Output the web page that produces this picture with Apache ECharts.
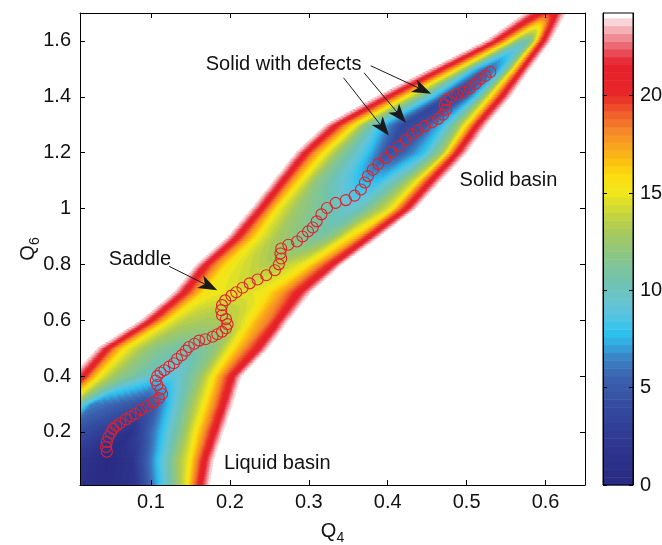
<!DOCTYPE html>
<html>
<head>
<meta charset="utf-8">
<script src="https://cdn.jsdelivr.net/npm/echarts@6/dist/echarts.min.js"></script>
<style>
  html, body { margin: 0; padding: 0; background: #fff; }
  #chart { width: 662px; height: 545px; }
</style>
</head>
<body>
<div id="chart"></div>
<script>
// Free-energy landscape in the (Q4, Q6) order-parameter plane with the
// minimum free-energy path from the liquid basin to the solid basin.

// Free-energy profiles across the valley, one row per Q6 level.
// Each row lists 13 knots (Q4 position, free energy) from the upper-left
// rim, through the valley floor, to the lower-right rim.
const q6Rows = [0.0, 0.1, 0.2, 0.3, 0.4, 0.5, 0.6, 0.7, 0.8, 0.9, 1.0, 1.1, 1.2, 1.3, 1.4, 1.5, 1.6, 1.7];
const rowQ4 = [
  [-0.40, -0.35, -0.30, -0.25, -0.20, 0.000, 0.040, 0.081, 0.132, 0.145, 0.153, 0.162, 0.173],
  [-0.32, -0.27, -0.22, -0.17, -0.12, 0.000, 0.045, 0.075, 0.130, 0.148, 0.158, 0.168, 0.179],
  [-0.25, -0.20, -0.15, -0.10, -0.05, 0.000, 0.075, 0.093, 0.140, 0.155, 0.168, 0.180, 0.191],
  [-0.040, -0.025, -0.015, -0.005, 0.004, 0.025, 0.090, 0.108, 0.148, 0.166, 0.180, 0.192, 0.203],
  [0.000, 0.015, 0.024, 0.036, 0.055, 0.085, 0.110, 0.130, 0.160, 0.177, 0.190, 0.203, 0.214],
  [0.033, 0.045, 0.055, 0.070, 0.100, 0.125, 0.150, 0.170, 0.182, 0.200, 0.218, 0.236, 0.248],
  [0.088, 0.100, 0.112, 0.125, 0.145, 0.170, 0.195, 0.210, 0.222, 0.235, 0.250, 0.262, 0.274],
  [0.130, 0.142, 0.155, 0.168, 0.185, 0.210, 0.230, 0.245, 0.255, 0.265, 0.275, 0.288, 0.302],
  [0.158, 0.170, 0.183, 0.198, 0.215, 0.240, 0.265, 0.285, 0.299, 0.313, 0.321, 0.330, 0.341],
  [0.198, 0.210, 0.222, 0.238, 0.260, 0.290, 0.315, 0.330, 0.347, 0.362, 0.369, 0.377, 0.389],
  [0.228, 0.240, 0.250, 0.262, 0.285, 0.325, 0.350, 0.365, 0.385, 0.405, 0.413, 0.424, 0.435],
  [0.256, 0.268, 0.278, 0.292, 0.310, 0.340, 0.370, 0.390, 0.416, 0.437, 0.445, 0.455, 0.467],
  [0.284, 0.296, 0.307, 0.322, 0.340, 0.375, 0.400, 0.420, 0.446, 0.470, 0.478, 0.488, 0.500],
  [0.322, 0.335, 0.347, 0.360, 0.372, 0.392, 0.420, 0.445, 0.470, 0.490, 0.502, 0.513, 0.525],
  [0.386, 0.400, 0.412, 0.424, 0.438, 0.458, 0.478, 0.495, 0.510, 0.522, 0.532, 0.544, 0.555],
  [0.455, 0.468, 0.480, 0.490, 0.500, 0.510, 0.525, 0.537, 0.547, 0.555, 0.562, 0.570, 0.580],
  [0.525, 0.537, 0.547, 0.556, 0.563, 0.570, 0.577, 0.582, 0.586, 0.589, 0.592, 0.597, 0.606],
  [0.575, 0.585, 0.590, 0.594, 0.597, 0.600, 0.603, 0.606, 0.609, 0.612, 0.615, 0.618, 0.625]
];
const rowF = [
  [24, 21, 18, 15, 12, 1.5, 0.5, 2, 12, 15, 18, 21, 24],
  [24, 21, 18, 15, 12, 2.2, 0.3, 1.5, 12, 15, 18, 21, 24],
  [24, 21, 18, 15, 12, 4.5, 1.5, 4.5, 12, 15, 18, 21, 24],
  [24, 21, 18, 15, 12, 6.5, 4.3, 5.5, 12, 15, 18, 21, 24],
  [24, 21, 18, 15, 12.5, 10.5, 8.5, 9, 12, 15, 18, 21, 24],
  [24, 21, 18, 15, 12, 11, 10.5, 11.5, 12, 15, 18, 21, 24],
  [24, 21, 18, 15, 13.5, 13, 13.2, 14, 15, 17, 18.5, 21, 24],
  [24, 21, 18, 15.5, 15, 14.5, 14.8, 15.3, 16.5, 17.5, 19, 21, 24],
  [24, 21, 18, 15.5, 14.5, 13.5, 13.5, 14.5, 15.5, 18, 19.5, 21, 24],
  [24, 21, 18, 15, 13, 11.5, 11, 12, 15, 17, 19, 21, 24],
  [24, 21, 18, 15, 12.5, 10.5, 9.5, 10, 12.5, 15, 18, 21, 24],
  [24, 21, 18, 15, 12, 9.5, 7.5, 8, 11, 15, 18, 21, 24],
  [24, 21, 18, 15, 12, 8, 4.5, 5.5, 8, 13, 17, 21, 24],
  [24, 21, 18, 15, 12, 8, 3.8, 4.5, 8, 12.5, 16.5, 21, 24],
  [24, 21, 18, 15, 12, 8, 3.5, 4.5, 8, 12.5, 16.5, 21, 24],
  [24, 21, 18, 15, 12, 8, 5.5, 6.5, 9, 13, 17, 21, 24],
  [24, 21, 18, 15, 12.5, 11, 10.5, 11.5, 14, 16.5, 18.5, 21, 24],
  [24, 22, 21.5, 21, 20.5, 20, 20, 20.2, 20.5, 21, 21.5, 22.5, 24]
];

// Minimum free-energy path (red circles).
const pathQ4 = [
  0.044, 0.043, 0.044, 0.046, 0.049, 0.052, 0.056, 0.061, 0.068, 0.074,
  0.080, 0.087, 0.095, 0.103, 0.110, 0.114, 0.112, 0.108, 0.106, 0.108,
  0.112, 0.117, 0.123, 0.129, 0.133, 0.139, 0.144, 0.148, 0.155, 0.161,
  0.169, 0.178, 0.184, 0.190, 0.195, 0.197, 0.195, 0.190, 0.189, 0.190,
  0.194, 0.202, 0.208, 0.216, 0.225, 0.235, 0.246, 0.257, 0.262, 0.265,
  0.264, 0.265, 0.274, 0.285, 0.292, 0.299, 0.305, 0.310, 0.316, 0.323,
  0.334, 0.347, 0.358, 0.366, 0.371, 0.375, 0.381, 0.388, 0.397, 0.405,
  0.414, 0.423, 0.431, 0.438, 0.447, 0.456, 0.464, 0.470, 0.474, 0.472,
  0.474, 0.480, 0.488, 0.496, 0.504, 0.511, 0.517, 0.524, 0.530
];
const pathQ6 = [
  0.129, 0.146, 0.164, 0.182, 0.196, 0.211, 0.221, 0.232, 0.245, 0.255,
  0.264, 0.279, 0.291, 0.305, 0.321, 0.336, 0.352, 0.368, 0.384, 0.400,
  0.413, 0.421, 0.434, 0.446, 0.461, 0.475, 0.491, 0.504, 0.516, 0.527,
  0.532, 0.541, 0.550, 0.559, 0.571, 0.586, 0.604, 0.618, 0.636, 0.654,
  0.671, 0.688, 0.700, 0.716, 0.732, 0.746, 0.761, 0.779, 0.800, 0.821,
  0.839, 0.857, 0.870, 0.882, 0.900, 0.918, 0.932, 0.954, 0.979, 1.002,
  1.020, 1.030, 1.046, 1.068, 1.093, 1.116, 1.139, 1.159, 1.180, 1.202,
  1.223, 1.246, 1.266, 1.279, 1.295, 1.309, 1.321, 1.336, 1.354, 1.371,
  1.388, 1.398, 1.409, 1.418, 1.430, 1.446, 1.463, 1.475, 1.489
];

// Axis ticks.
const xTicks = [0.1, 0.2, 0.3, 0.4, 0.5, 0.6];
const yTicks = [0.2, 0.4, 0.6, 0.8, 1, 1.2, 1.4, 1.6];
const colorbarTicks = [0, 5, 10, 15, 20];

// Annotations (anchor points in data units).
const noteText = ['Solid with defects', 'Saddle', 'Solid basin', 'Liquid basin'];
const noteQ4 = [0.268, 0.086, 0.553, 0.260];
const noteQ6 = [1.514, 0.818, 1.100, 0.086];
const arrowStart = [[0.3785, 1.511], [0.370, 1.486], [0.344, 1.468], [0.123, 0.793]];
const arrowEnd = [[0.455, 1.411], [0.423, 1.307], [0.4015, 1.261], [0.184, 0.707]];

// Colour map: free energy -> colour.
const cmapStops = [
  [0, '#2a2a82'], [1.5, '#2c318a'], [3, '#313f98'], [4.5, '#3551a3'],
  [5.5, '#3a62ae'], [6.5, '#3b82c4'], [7.3, '#33abe2'], [7.9, '#2dc4ef'],
  [8.6, '#52c4e3'], [9.5, '#6ac5cf'], [10.3, '#6dc3b3'], [11.2, '#7ec49c'],
  [12, '#90c67f'], [13, '#a8c95b'], [14, '#c9d63b'], [15, '#efe71b'],
  [15.8, '#fbdf12'], [16.5, '#fcc60f'], [17.3, '#f9a81b'], [18.2, '#f5882a'],
  [19.0, '#f0622a'], [19.6, '#ec4229'], [20.1, '#e8262a'], [21.6, '#e51f2a'],
  [22.0, '#e73a47'], [22.4, '#ea5863'], [22.8, '#ee7b85'], [23.2, '#f29ca4'],
  [23.6, '#f7c3c8'], [24.0, '#fde6e8']
];
const F_MAX = 24;        // blank at and above this level
const F_AXIS_MAX = 24.25;
const BAND = 0.4;        // contour spacing
const NBANDS = Math.round(F_MAX / BAND);

function hexToRgb(h) {
  return [parseInt(h.slice(1, 3), 16), parseInt(h.slice(3, 5), 16), parseInt(h.slice(5, 7), 16)];
}
function colourAt(v) {
  if (v <= cmapStops[0][0]) return cmapStops[0][1];
  for (let i = 0; i < cmapStops.length - 1; i++) {
    const a = cmapStops[i], b = cmapStops[i + 1];
    if (v <= b[0]) {
      const t = (v - a[0]) / (b[0] - a[0]);
      const ca = hexToRgb(a[1]), cb = hexToRgb(b[1]);
      const c = ca.map((x, k) => Math.round(x + t * (cb[k] - x)));
      return 'rgb(' + c.join(',') + ')';
    }
  }
  return cmapStops[cmapStops.length - 1][1];
}
const bandColours = [];
for (let k = 0; k < NBANDS; k++) bandColours.push(colourAt((k + 0.5) * BAND));

// Profile at an arbitrary Q6: knots of the neighbouring rows blended.
function profileAt(y) {
  let i = 0;
  while (i < q6Rows.length - 2 && y > q6Rows[i + 1]) i++;
  const t = Math.max(0, Math.min(1, (y - q6Rows[i]) / (q6Rows[i + 1] - q6Rows[i])));
  const xs = rowQ4[i].map((a, k) => a + t * (rowQ4[i + 1][k] - a));
  const fs = rowF[i].map((a, k) => a + t * (rowF[i + 1][k] - a));
  return { xs, fs };
}
function valueOn(p, x) {
  const xs = p.xs, fs = p.fs, n = xs.length;
  if (x <= xs[0] || x >= xs[n - 1]) return F_MAX + 1;
  for (let k = 0; k < n - 1; k++) {
    if (x <= xs[k + 1]) {
      const u = (x - xs[k]) / (xs[k + 1] - xs[k]);
      return fs[k] + u * (fs[k + 1] - fs[k]);
    }
  }
  return F_MAX + 1;
}
function bandOf(f) {
  if (f >= F_MAX) return -1;
  return Math.max(0, Math.min(NBANDS - 1, Math.floor(f / BAND)));
}

// Filled contour cells: runs of equal band along each Q6 strip.
const X_MIN = 0.01, X_MAX = 0.65, Y_MIN = 0.01, Y_MAX = 1.7;
const DY = 0.006, DX = 0.0008;
const cells = [];
for (let yc = Y_MIN + DY / 2; yc < Y_MAX + DY / 2; yc += DY) {
  const p = profileAt(yc);
  let cur = null, start = X_MIN;
  for (let xc = X_MIN + DX / 2; xc < X_MAX; xc += DX) {
    const b = bandOf(valueOn(p, xc));
    if (cur === null) { cur = b; start = X_MIN; continue; }
    if (b !== cur) {
      const edge = xc - DX / 2;
      if (cur >= 0) cells.push([start, edge, yc, cur]);
      cur = b; start = edge;
    }
  }
  if (cur !== null && cur >= 0) cells.push([start, X_MAX, yc, cur]);
}

// Colour-bar blocks.
const barBlocks = [];
for (let k = 0; k < NBANDS; k++) barBlocks.push([k * BAND, (k + 1) * BAND, k]);
barBlocks.push([F_MAX, F_AXIS_MAX, -1]);

const FONT = '"Liberation Sans", Arial, Helvetica, sans-serif';
const TEXT = '#111111';

const chart = echarts.init(document.getElementById('chart'), null, { renderer: 'canvas' });

const boxAxis = (extra) => Object.assign({
  type: 'value', z: 10,
  axisLine: { show: true, onZero: false, lineStyle: { color: '#000', width: 1 } },
  splitLine: { show: false }
}, extra);

const subRich = {
  q: { fontSize: 20, lineHeight: 28, fontFamily: FONT, color: TEXT, verticalAlign: 'middle' },
  s: { fontSize: 14, lineHeight: 14, fontFamily: FONT, color: TEXT, verticalAlign: 'bottom' }
};

chart.setOption({
  animation: false,
  backgroundColor: '#fff',
  grid: [
    { left: 80, top: 13, width: 505, height: 472, containLabel: false, outerBoundsMode: 'none' },
    { left: 603, top: 13, width: 30, height: 472, containLabel: false, outerBoundsMode: 'none',
      show: true, borderColor: '#000', borderWidth: 1, z: 10 }
  ],
  xAxis: [
    boxAxis({
      gridIndex: 0, min: X_MIN, max: X_MAX, position: 'bottom',
      name: '{q|Q}{s|4}', nameLocation: 'middle', nameGap: 32, nameMoveOverlap: false,
      nameTextStyle: { rich: subRich },
      axisTick: { show: true, inside: true, length: 5, customValues: xTicks, lineStyle: { color: '#000' } },
      axisLabel: { show: true, customValues: xTicks, fontSize: 20, fontFamily: FONT, color: TEXT, margin: 7 }
    }),
    boxAxis({
      gridIndex: 0, min: X_MIN, max: X_MAX, position: 'top',
      axisTick: { show: true, inside: true, length: 5, customValues: xTicks, lineStyle: { color: '#000' } },
      axisLabel: { show: false }
    }),
    { type: 'value', gridIndex: 1, min: 0, max: 1, show: false }
  ],
  yAxis: [
    boxAxis({
      gridIndex: 0, min: Y_MIN, max: Y_MAX, position: 'left',
      name: '{q|Q}{s|6}', nameLocation: 'middle', nameGap: 38, nameRotate: 90, nameMoveOverlap: false,
      nameTextStyle: { rich: subRich },
      axisTick: { show: true, inside: true, length: 5, customValues: yTicks, lineStyle: { color: '#000' } },
      axisLabel: { show: true, customValues: yTicks, fontSize: 20, fontFamily: FONT, color: TEXT, margin: 9 }
    }),
    boxAxis({
      gridIndex: 0, min: Y_MIN, max: Y_MAX, position: 'right',
      axisTick: { show: true, inside: true, length: 5, customValues: yTicks, lineStyle: { color: '#000' } },
      axisLabel: { show: false }
    }),
    boxAxis({
      gridIndex: 1, min: 0, max: F_AXIS_MAX, position: 'right',
      axisTick: { show: true, inside: true, length: 4, customValues: colorbarTicks, lineStyle: { color: '#000' } },
      axisLabel: { show: true, customValues: colorbarTicks, fontSize: 20, fontFamily: FONT, color: TEXT, margin: 7 }
    }),
    boxAxis({
      gridIndex: 1, min: 0, max: F_AXIS_MAX, position: 'left',
      axisTick: { show: true, inside: true, length: 4, customValues: colorbarTicks, lineStyle: { color: '#000' } },
      axisLabel: { show: false }
    })
  ],
  series: [
    {
      // filled free-energy contours
      type: 'custom',
      xAxisIndex: 0, yAxisIndex: 0,
      data: cells,
      encode: { x: [0, 1], y: 2 },
      clip: true,
      silent: true,
      progressive: 0,
      z: 1,
      renderItem: function (params, api) {
        const p0 = api.coord([api.value(0), api.value(2) + DY / 2]);
        const p1 = api.coord([api.value(1), api.value(2) - DY / 2]);
        return {
          type: 'rect',
          shape: { x: p0[0] - 0.4, y: p0[1] - 0.4, width: p1[0] - p0[0] + 0.8, height: p1[1] - p0[1] + 0.8 },
          style: { fill: bandColours[api.value(3)] }
        };
      }
    },
    {
      // colour bar
      type: 'custom',
      xAxisIndex: 2, yAxisIndex: 2,
      data: barBlocks,
      encode: { y: [0, 1] },
      silent: true,
      z: 1,
      renderItem: function (params, api) {
        const p0 = api.coord([0, api.value(1)]);
        const p1 = api.coord([1, api.value(0)]);
        const k = api.value(2);
        return {
          type: 'rect',
          shape: { x: p0[0], y: p0[1], width: p1[0] - p0[0], height: p1[1] - p0[1] + 0.5 },
          style: { fill: k >= 0 ? bandColours[k] : '#ffffff' }
        };
      }
    },
    {
      // minimum free-energy path
      type: 'scatter',
      xAxisIndex: 0, yAxisIndex: 0,
      data: pathQ4.map((q4, i) => [q4, pathQ6[i]]),
      symbol: 'circle',
      symbolSize: 11,
      silent: true,
      z: 5,
      itemStyle: { color: 'rgba(0,0,0,0)', borderColor: '#e3202a', borderWidth: 1.1, opacity: 1 }
    },
    {
      // annotation arrows
      type: 'custom',
      xAxisIndex: 0, yAxisIndex: 0,
      data: arrowStart.map((a, i) => [a[0], a[1], arrowEnd[i][0], arrowEnd[i][1]]),
      silent: true,
      z: 6,
      renderItem: function (params, api) {
        const a = api.coord([api.value(0), api.value(1)]);
        const b = api.coord([api.value(2), api.value(3)]);
        const dx = b[0] - a[0], dy = b[1] - a[1];
        const len = Math.sqrt(dx * dx + dy * dy);
        const ux = dx / len, uy = dy / len, nx = -uy, ny = ux;
        const L = 19, W = 7, notch = 5;
        const back = [b[0] - ux * L, b[1] - uy * L];
        const mid = [b[0] - ux * (L - notch), b[1] - uy * (L - notch)];
        return {
          type: 'group',
          children: [
            { type: 'line', shape: { x1: a[0], y1: a[1], x2: mid[0], y2: mid[1] },
              style: { stroke: '#1a1a1a', lineWidth: 1 } },
            { type: 'polygon', shape: { points: [
                b, [back[0] + nx * W, back[1] + ny * W], mid, [back[0] - nx * W, back[1] - ny * W]
              ] }, style: { fill: '#1a1a1a' } }
          ]
        };
      }
    },
    {
      // annotation text
      type: 'scatter',
      xAxisIndex: 0, yAxisIndex: 0,
      data: noteText.map((t, i) => ({ name: t, value: [noteQ4[i], noteQ6[i]] })),
      symbolSize: 0,
      silent: true,
      z: 7,
      itemStyle: { opacity: 1 },
      label: { show: true, position: 'inside', formatter: '{b}', fontSize: 20, fontFamily: FONT, color: TEXT, textBorderWidth: 0 }
    }
  ]
});
</script>
</body>
</html>
